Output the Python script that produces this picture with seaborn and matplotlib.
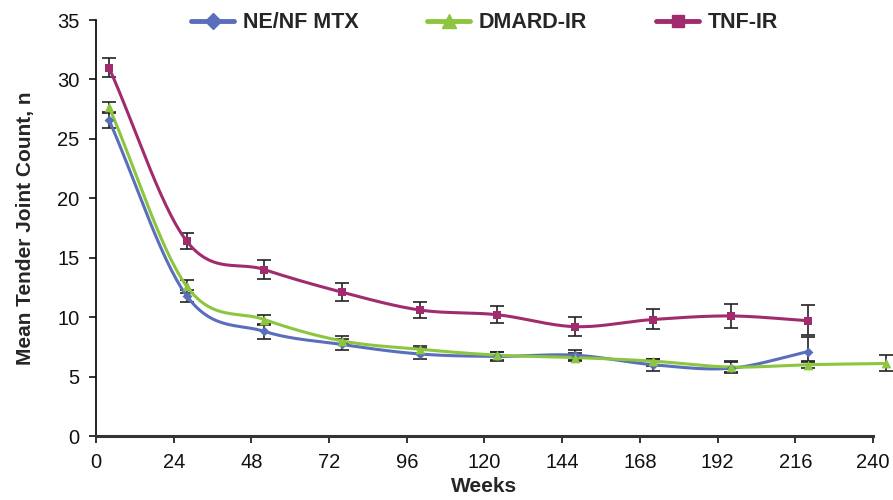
import numpy as np
import pandas as pd
import matplotlib
matplotlib.use("Agg")
import matplotlib.pyplot as plt
import seaborn as sns
from matplotlib.lines import Line2D

weeks = [4, 28, 52, 76, 100, 124, 148, 172, 196, 220, 244]

mtx_mean = [26.6, 11.8, 8.8, 7.7, 6.9, 6.7, 6.8, 6.0, 5.7, 7.1]
mtx_lo = [25.9, 11.3, 8.2, 7.2, 6.5, 6.3, 6.4, 5.5, 5.3, 6.2]
mtx_hi = [27.3, 12.3, 9.4, 8.2, 7.4, 7.1, 7.2, 6.5, 6.2, 8.3]

dmard_mean = [27.7, 12.6, 9.8, 8.0, 7.3, 6.8, 6.6, 6.3, 5.8, 6.0, 6.1]
dmard_lo = [27.2, 12.0, 9.3, 7.7, 6.9, 6.4, 6.3, 5.9, 5.4, 5.7, 5.5]
dmard_hi = [28.1, 13.1, 10.2, 8.4, 7.6, 7.1, 7.0, 6.5, 6.3, 6.3, 6.8]

tnf_mean = [31.0, 16.4, 14.0, 12.1, 10.6, 10.2, 9.2, 9.8, 10.1, 9.7]
tnf_lo = [30.2, 15.7, 13.2, 11.4, 9.9, 9.5, 8.4, 9.0, 9.1, 8.5]
tnf_hi = [31.8, 17.1, 14.8, 12.9, 11.3, 10.9, 10.0, 10.7, 11.1, 11.0]

groups = ["NE/NF MTX", "DMARD-IR", "TNF-IR"]
colors = {"NE/NF MTX": "#5A6EBB", "DMARD-IR": "#8CC63E", "TNF-IR": "#A02C6E"}
marks = {"NE/NF MTX": "D", "DMARD-IR": "^", "TNF-IR": "s"}
msize = {"NE/NF MTX": 5, "DMARD-IR": 7, "TNF-IR": 6}

series = {
    "NE/NF MTX": (mtx_mean, mtx_lo, mtx_hi),
    "DMARD-IR": (dmard_mean, dmard_lo, dmard_hi),
    "TNF-IR": (tnf_mean, tnf_lo, tnf_hi),
}


def smooth(x, y, n=30):
    # hermite spline through the points, like excel's smoothed line
    x = np.asarray(x, float)
    y = np.asarray(y, float)
    m = np.zeros_like(y)
    m[1:-1] = (y[2:] - y[:-2]) / (x[2:] - x[:-2])
    m[0] = (y[1] - y[0]) / (x[1] - x[0])
    m[-1] = (y[-1] - y[-2]) / (x[-1] - x[-2])
    xs, ys = [], []
    for i in range(len(x) - 1):
        h = x[i + 1] - x[i]
        t = np.linspace(0, 1, n, endpoint=False)
        h00 = 2 * t**3 - 3 * t**2 + 1
        h10 = t**3 - 2 * t**2 + t
        h01 = -2 * t**3 + 3 * t**2
        h11 = t**3 - t**2
        xs.append(x[i] + t * h)
        ys.append(h00 * y[i] + h10 * h * m[i] + h01 * y[i + 1] + h11 * h * m[i + 1])
    xs.append([x[-1]])
    ys.append([y[-1]])
    return np.concatenate(xs), np.concatenate(ys)


sns.set_style("white")
plt.rcParams["font.family"] = ["Liberation Sans Narrow", "Liberation Sans", "DejaVu Sans"]

fig, ax = plt.subplots(figsize=(8.93, 5), dpi=100)
fig.subplots_adjust(left=0.1075, right=0.9776, bottom=0.128, top=0.96)

rows = []
for g in groups:
    mean = series[g][0]
    xs, ys = smooth(weeks[: len(mean)], mean)
    rows.append(pd.DataFrame({"week": xs, "value": ys, "group": g}))
curves = pd.concat(rows, ignore_index=True)

for g in groups:
    mean, lo, hi = series[g]
    x = weeks[: len(mean)]
    err = [np.array(mean) - np.array(lo), np.array(hi) - np.array(mean)]
    ax.errorbar(x, mean, yerr=err, fmt="none", ecolor="#222222", elinewidth=1.2,
                capsize=5, capthick=1.2, zorder=2, clip_on=False)

sns.lineplot(data=curves, x="week", y="value", hue="group", palette=colors,
             linewidth=2.2, legend=False, ax=ax, zorder=3, sort=False)
for line in ax.get_lines():
    line.set_clip_on(False)

for g in groups:
    mean = series[g][0]
    sns.scatterplot(x=weeks[: len(mean)], y=mean, marker=marks[g], color=colors[g],
                    s=msize[g] ** 2, edgecolor=colors[g], linewidth=0, ax=ax,
                    zorder=4, clip_on=False)

ax.set_xlim(0, 240)
ax.set_ylim(0, 35)
ax.set_xticks(range(0, 241, 24))
ax.set_yticks(range(0, 36, 5))
ax.tick_params(axis="both", direction="out", length=5, width=1.2, labelsize=14.5,
               pad=7, bottom=True, left=True, colors="#111111")
sns.despine(ax=ax)
ax.spines["left"].set_linewidth(1.3)
ax.spines["left"].set_color("#111111")
ax.spines["bottom"].set_linewidth(2.2)
ax.spines["bottom"].set_color("#333333")
ax.set_xlabel("Weeks", fontsize=15, fontweight="bold", family=["Liberation Sans", "DejaVu Sans"], labelpad=4)
ax.set_ylabel("Mean Tender Joint Count, n", fontsize=15, fontweight="bold",
              family=["Liberation Sans", "DejaVu Sans"], labelpad=16)

handles = [Line2D([0], [0], color=colors[g], marker=marks[g], markersize=msize[g] + 3,
                  linewidth=3.5) for g in groups]
leg = ax.legend(handles, groups, loc="upper center", bbox_to_anchor=(0.5, 1.065), ncol=3,
                frameon=False, columnspacing=3.2, handlelength=2.0, handletextpad=0.4,
                prop={"family": ["Liberation Sans", "DejaVu Sans"], "weight": "bold", "size": 15.5})

fig.savefig("out.png", dpi=100)
